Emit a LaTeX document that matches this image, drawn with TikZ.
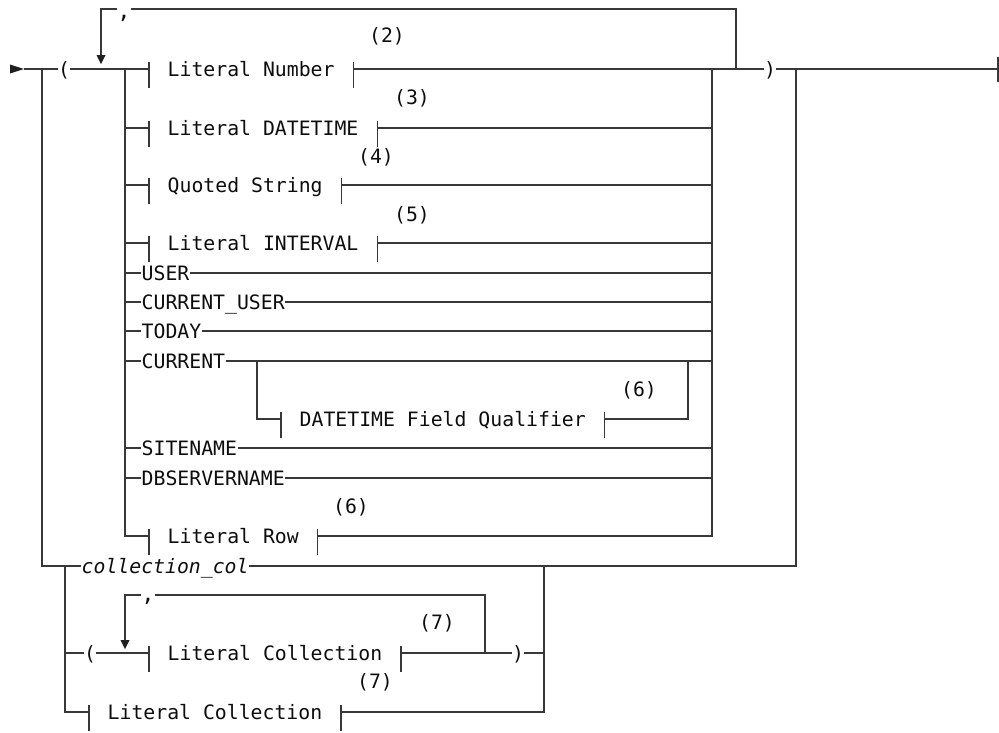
\documentclass[tikz,border=0pt]{standalone}
\usepackage{fontspec}
\newfontfamily\rrfont{DejaVu Sans Mono}
\begin{document}
\begin{tikzpicture}[x=1pt,y=-1pt,
  ln/.style={draw=black!78, line width=1.1pt},
  tip/.style={fill=black!88},
  txt/.style={font={\rrfont\fontsize{19.8pt}{24pt}\selectfont}, text=black!95, inner xsep=0.5pt, inner ysep=0pt, text height=14.4pt, text depth=0pt, anchor=west},
  itxt/.style={txt, font={\rrfont\itshape\fontsize{19.8pt}{24pt}\selectfont}},
  ntbox/.style={txt, inner xsep=18.5pt},
  punct/.style={txt, inner xsep=0pt, anchor=center},
  cmm/.style={font={\rrfont\fontsize{22pt}{24pt}\selectfont}, text=black!95, inner sep=0pt, anchor=base},
  fn/.style={font={\rrfont\fontsize{19.8pt}{24pt}\selectfont}, text=black!95, inner sep=0pt, anchor=center}
]
\useasboundingbox (0,0) rectangle (999,732);

% ---------- coordinates
\coordinate (start) at (24,69);
\coordinate (oL) at (42,69);
\coordinate (rL) at (125,69);
\coordinate (lpL) at (101,69);
\coordinate (rR) at (712,69);
\coordinate (lpR) at (736,69);
\coordinate (oR) at (796,69);
\coordinate (fin) at (998,69);
\coordinate (b1) at (257,361);
\coordinate (b2) at (688,361);
\coordinate (iL) at (65,566);
\coordinate (iR) at (544,566);

% ---------- nodes
\node[punct] (lp) at (64,69) {(};
\node[punct] (rp) at (770,69) {)};
\node[cmm] (cm1) at (124,18) {,};

\node[ntbox] (lnum) at (149,69) {Literal Number};
\node[ntbox] (ldt) at (149,128) {Literal DATETIME};
\node[ntbox] (qs) at (149,185) {Quoted String};
\node[ntbox] (lint) at (149,243) {Literal INTERVAL};
\node[txt] (user) at (141,273) {USER};
\node[txt] (cuser) at (141,302) {CURRENT\_USER};
\node[txt] (today) at (141,331) {TODAY};
\node[txt] (cur) at (141,361) {CURRENT};
\node[ntbox] (dfq) at (281,419) {DATETIME Field Qualifier};
\node[txt] (site) at (141,448) {SITENAME};
\node[txt] (dbs) at (141,478) {DBSERVERNAME};
\node[ntbox] (lrow) at (149,536) {Literal Row};
\node[itxt] (ccol) at (81,566) {collection\_col};

\node[punct] (lp2) at (90,653) {(};
\node[cmm] (cm2) at (148,601) {,};
\node[ntbox] (lc1) at (149,653) {Literal Collection};
\node[punct] (rp2) at (518,653) {)};
\node[ntbox] (lc2) at (89,712) {Literal Collection};

% footnotes
\node[fn] at (387,36) {(2)};
\node[fn] at (412,98) {(3)};
\node[fn] at (376,157) {(4)};
\node[fn] at (412,215) {(5)};
\node[fn] at (639,390) {(6)};
\node[fn] at (351,507) {(6)};
\node[fn] at (437,623) {(7)};
\node[fn] at (375,682) {(7)};

% ---------- bars of the boxed items
\foreach \n in {lnum,ldt,qs,lint,dfq,lrow,lc1,lc2}{
  \draw[ln] ([yshift=7pt]\n.west) -- ([yshift=-19pt]\n.west);
  \draw[ln] ([yshift=7pt]\n.east) -- ([yshift=-19pt]\n.east);
}

% ---------- start / end
\fill[tip] (10,64.5) -- (24,69) -- (10,73.5) -- cycle;
\draw[ln] (start) -- (lp.west);
\draw[ln] (lp.east) -- (lnum.west);
\draw[ln] (lnum.east) -- (rp.west);
\draw[ln] (rp.east) -- (fin);
\draw[ln, line width=2.2pt] (801,69) -- (825,69);
\draw[ln] (998,57) -- (998,82);

% ---------- repeat loop (top)
\draw[ln] (lpR) -- (lpR |- 0,9) -- (cm1.east |- 0,9);
\draw[ln] (cm1.west |- 0,9) -- (lpL |- 0,9) -- (101,56);
\fill[tip] (96.5,55) -- (105.5,55) -- (101,64) -- cycle;

% ---------- choice rails
\draw[ln] (rL) |- (lrow.west);
\draw[ln] (lrow.east) -| (rR);
\draw[ln] (ldt.east) -- (rR |- ldt.east);
\draw[ln] (qs.east) -- (rR |- qs.east);
\draw[ln] (lint.east) -- (rR |- lint.east);
\foreach \n in {ldt,qs,lint}{ \draw[ln] (rL |- \n.west) -- (\n.west); }
\foreach \n in {user,cuser,today,cur,site,dbs}{
  \draw[ln] (rL |- \n.west) -- (\n.west);
  \draw[ln] (\n.east) -- (rR |- \n.east);
}
\draw[ln] (b1) |- (dfq.west);
\draw[ln] (dfq.east) -| (b2);

% ---------- outer rails
\draw[ln] (oL) |- (ccol.west);
\draw[ln] (ccol.east) -| (oR);

% ---------- lower block
\draw[ln] (iL) |- (lc2.west);
\draw[ln] (lc2.east) -| (iR);
\draw[ln] (iL |- lp2.west) -- (lp2.west);
\draw[ln] (lp2.east) -- (lc1.west);
\draw[ln] (lc1.east) -- (rp2.west);
\draw[ln] (rp2.east) -- (iR |- rp2.east);
\draw[ln] (485,653) -- (485,595) -- (cm2.east |- 0,595);
\draw[ln] (cm2.west |- 0,595) -- (125,595) -- (125,641);
\fill[tip] (120.5,640) -- (129.5,640) -- (125,649) -- cycle;
\end{tikzpicture}
\end{document}
